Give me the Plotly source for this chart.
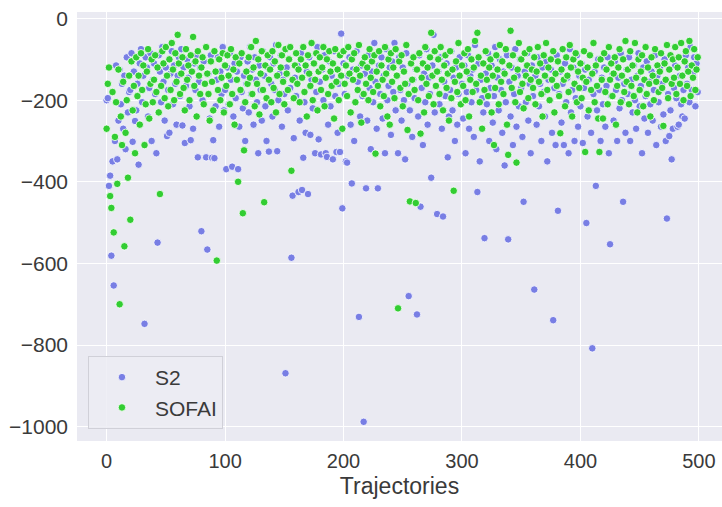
import plotly.graph_objects as go

# Episode returns per trajectory for the two agents
s2_returns = [
    -200, -195, -410, -385, -581, -350, -654, -300, -115, -345, -250, -125, -210, -160, -270, -140, -320, -95, -230, -180,
    -175, -85, -302, -130, -251, -225, -160, -358, -110, -75, -205, -140, -748, -95, -120, -240, -170, -85, -300, -150,
    -110, -185, -330, -549, -90, -130, -205, -70, -155, -250, -120, -288, -175, -280, -135, -80, -210, -115, -160, -260,
    -140, -95, -190, -75, -262, -120, -305, -165, -100, -145, -215, -298, -130, -270, -110, -175, -90, -340, -155, -120,
    -521, -200, -105, -160, -340, -566, -135, -245, -90, -341, -298, -342, -215, -150, -95, -265, -130, -185, -70, -225,
    -175, -369, -120, -210, -85, -150, -363, -240, -110, -195, -130, -369, -265, -95, -180, -220, -140, -300, -160, -105,
    -230, -70, -185, -125, -260, -95, -150, -205, -330, -115, -175, -250, -80, -140, -215, -300, -120, -326, -95, -160,
    -240, -110, -175, -65, -325, -200, -135, -90, -265, -150, -185, -869, -120, -225, -100, -170, -586, -434, -293, -145,
    -190, -115, -425, -250, -85, -420, -341, -205, -280, -130, -430, -95, -285, -150, -220, -110, -330, -180, -70, -296,
    -155, -333, -125, -200, -90, -330, -339, -260, -105, -215, -140, -345, -80, -190, -327, -280, -160, -327, -37, -465,
    -110, -185, -350, -353, -140, -95, -260, -404, -125, -300, -205, -80, -155, -731, -240, -115, -190, -988, -135, -416,
    -250, -90, -170, -320, -130, -205, -60, -155, -270, -416, -115, -185, -95, -245, -140, -330, -75, -200, -165, -120,
    -285, -105, -180, -60, -225, -140, -330, -95, -175, -250, -120, -200, -345, -85, -160, -680, -225, -110, -290, -150,
    -195, -125, -725, -240, -90, -461, -170, -310, -135, -205, -75, -260, -145, -185, -390, -115, -40, -230, -165, -479,
    -130, -210, -95, -270, -485, -155, -190, -110, -340, -240, -175, -80, -225, -145, -300, -120, -260, -185, -95, -210,
    -160, -245, -115, -330, -180, -90, -270, -140, -205, -125, -290, -65, -175, -425, -110, -350, -150, -195, -230, -538,
    -135, -210, -85, -300, -170, -115, -255, -190, -70, -320, -145, -225, -100, -175, -280, -130, -360, -205, -90, -541,
    -155, -240, -120, -310, -185, -75, -265, -140, -215, -100, -170, -290, -449, -130, -205, -85, -250, -160, -330, -115,
    -190, -664, -140, -260, -95, -215, -160, -300, -120, -180, -240, -105, -350, -150, -200, -125, -280, -739, -170, -310,
    -90, -471, -185, -130, -255, -160, -310, -110, -205, -145, -330, -75, -230, -175, -120, -300, -195, -90, -265, -140,
    -215, -110, -305, -170, -125, -501, -240, -150, -90, -280, -808, -185, -130, -410, -225, -100, -175, -300, -145, -210,
    -120, -265, -165, -95, -330, -553, -190, -135, -250, -105, -175, -300, -145, -220, -85, -200, -449, -160, -280, -125,
    -185, -95, -300, -150, -230, -115, -200, -270, -140, -85, -215, -165, -330, -120, -245, -190, -105, -280, -155, -210,
    -130, -250, -175, -90, -310, -140, -205, -120, -265, -160, -235, -100, -300, -490, -185, -288, -225, -345, -270, -170,
    -115, -195, -265, -260, -140, -210, -240, -175, -245, -90, -160, -120, -205, -70, -175, -135, -95, -215, -110, -180,
]

sofai_returns = [
    -270, -160, -120, -435, -464, -180, -524, -290, -205, -405, -125, -700, -240, -310, -155, -558, -280, -200, -390, -140,
    -493, -105, -225, -165, -330, -95, -190, -140, -260, -85, -175, -115, -310, -210, -130, -75, -245, -160, -100, -205,
    -150, -90, -180, -120, -230, -430, -165, -80, -110, -195, -70, -140, -215, -100, -175, -60, -125, -200, -85, -155,
    -40, -110, -185, -135, -95, -170, -225, -75, -150, -115, -200, -90, -130, -45, -165, -105, -240, -80, -140, -185,
    -120, -95, -210, -160, -70, -135, -185, -250, -105, -155, -225, -80, -130, -593, -175, -100, -200, -145, -85, -230,
    -115, -165, -90, -140, -210, -75, -185, -125, -260, -95, -150, -400, -110, -175, -85, -477, -323, -205, -130, -160,
    -95, -145, -70, -185, -120, -215, -55, -160, -100, -235, -135, -80, -175, -450, -115, -195, -90, -150, -125, -205,
    -80, -170, -105, -230, -140, -65, -185, -120, -90, -155, -210, -75, -135, -175, -100, -70, -373, -150, -195, -115,
    -85, -160, -125, -205, -100, -145, -70, -180, -115, -240, -90, -135, -165, -60, -200, -110, -150, -85, -225, -130,
    -95, -175, -120, -70, -215, -145, -100, -185, -80, -130, -165, -110, -245, -75, -155, -125, -200, -90, -140, -270,
    -80, -160, -115, -190, -70, -135, -230, -100, -150, -85, -205, -125, -175, -65, -140, -255, -110, -185, -95, -160,
    -120, -200, -75, -145, -105, -180, -90, -331, -130, -165, -80, -215, -115, -150, -190, -70, -135, -240, -100, -260,
    -85, -155, -120, -195, -75, -140, -710, -105, -170, -90, -215, -130, -160, -65, -273, -185, -448, -110, -150, -95,
    -175, -452, -125, -200, -85, -282, -145, -110, -230, -70, -160, -120, -190, -95, -35, -140, -210, -80, -165, -130,
    -100, -185, -70, -150, -225, -115, -90, -170, -135, -250, -80, -195, -125, -422, -155, -105, -180, -60, -140, -210,
    -115, -165, -85, -200, -130, -75, -240, -150, -100, -180, -120, -55, -160, -35, -95, -205, -140, -270, -110, -175,
    -80, -150, -190, -120, -100, -230, -140, -310, -170, -90, -125, -210, -65, -155, -105, -185, -135, -75, -260, -334,
    -115, -30, -170, -90, -145, -205, -353, -125, -60, -180, -100, -160, -220, -85, -140, -115, -195, -75, -150, -125,
    -170, -95, -210, -130, -70, -155, -110, -185, -240, -90, -140, -60, -175, -120, -200, -100, -150, -80, -230, -135,
    -165, -105, -190, -281, -125, -75, -150, -215, -95, -140, -180, -65, -120, -240, -100, -160, -85, -205, -130, -170,
    -110, -195, -145, -80, -327, -155, -120, -225, -90, -175, -135, -60, -205, -115, -165, -245, -327, -100, -150, -245,
    -85, -180, -125, -210, -70, -150, -110, -190, -135, -95, -260, -165, -120, -75, -205, -140, -100, -180, -55, -155,
    -125, -210, -80, -165, -115, -190, -60, -145, -230, -100, -175, -130, -90, -215, -150, -70, -185, -120, -160, -240,
    -95, -140, -200, -75, -155, -115, -180, -130, -85, -170, -263, -110, -150, -65, -195, -125, -90, -160, -100, -145,
    -70, -185, -120, -95, -160, -60, -140, -200, -105, -80, -165, -130, -55, -190, -115, -145, -75, -175, -125, -95,
]

series_names = ["S2", "SOFAI"]
series_colors = ["rgb(120,126,228)", "rgb(50,205,50)"]

font_family = "Liberation Sans, Arial, sans-serif"
text_color = "#3a3a3a"

fig = go.Figure()
for name, values, color in zip(series_names, [s2_returns, sofai_returns], series_colors):
    fig.add_trace(go.Scatter(
        x=list(range(len(values))),
        y=values,
        mode="markers",
        name=name,
        marker=dict(size=7.5, color=color, line=dict(color="white", width=0.8)),
    ))

fig.update_layout(
    width=722,
    height=507,
    margin=dict(l=77, r=0, t=12, b=66),
    paper_bgcolor="white",
    plot_bgcolor="#EAEAF2",
    font=dict(family=font_family, size=20, color=text_color),
    showlegend=True,
    legend=dict(
        x=0.017, y=0.028, xanchor="left", yanchor="bottom",
        bgcolor="rgba(236,236,243,0.85)",
        bordercolor="#D0D0D8", borderwidth=1,
        font=dict(size=21, color=text_color),
        itemwidth=56,
    ),
)

fig.update_xaxes(
    title=dict(text="Trajectories", font=dict(size=23, color=text_color), standoff=6),
    range=[-25, 519.5],
    tickvals=[0, 100, 200, 300, 400, 500],
    showgrid=True, gridcolor="white", gridwidth=1.2,
    zeroline=False, showline=False, ticks="",
    ticklabelstandoff=6,
    tickfont=dict(size=20),
)
fig.update_yaxes(
    range=[-1035, 16],
    tickvals=[0, -200, -400, -600, -800, -1000],
    ticktext=["0", "\u2212200", "\u2212400", "\u2212600", "\u2212800", "\u22121000"],
    showgrid=True, gridcolor="white", gridwidth=1.2,
    zeroline=False, showline=False, ticks="",
    ticklabelstandoff=8,
    tickfont=dict(size=21),
)

fig.write_html("out.html")
